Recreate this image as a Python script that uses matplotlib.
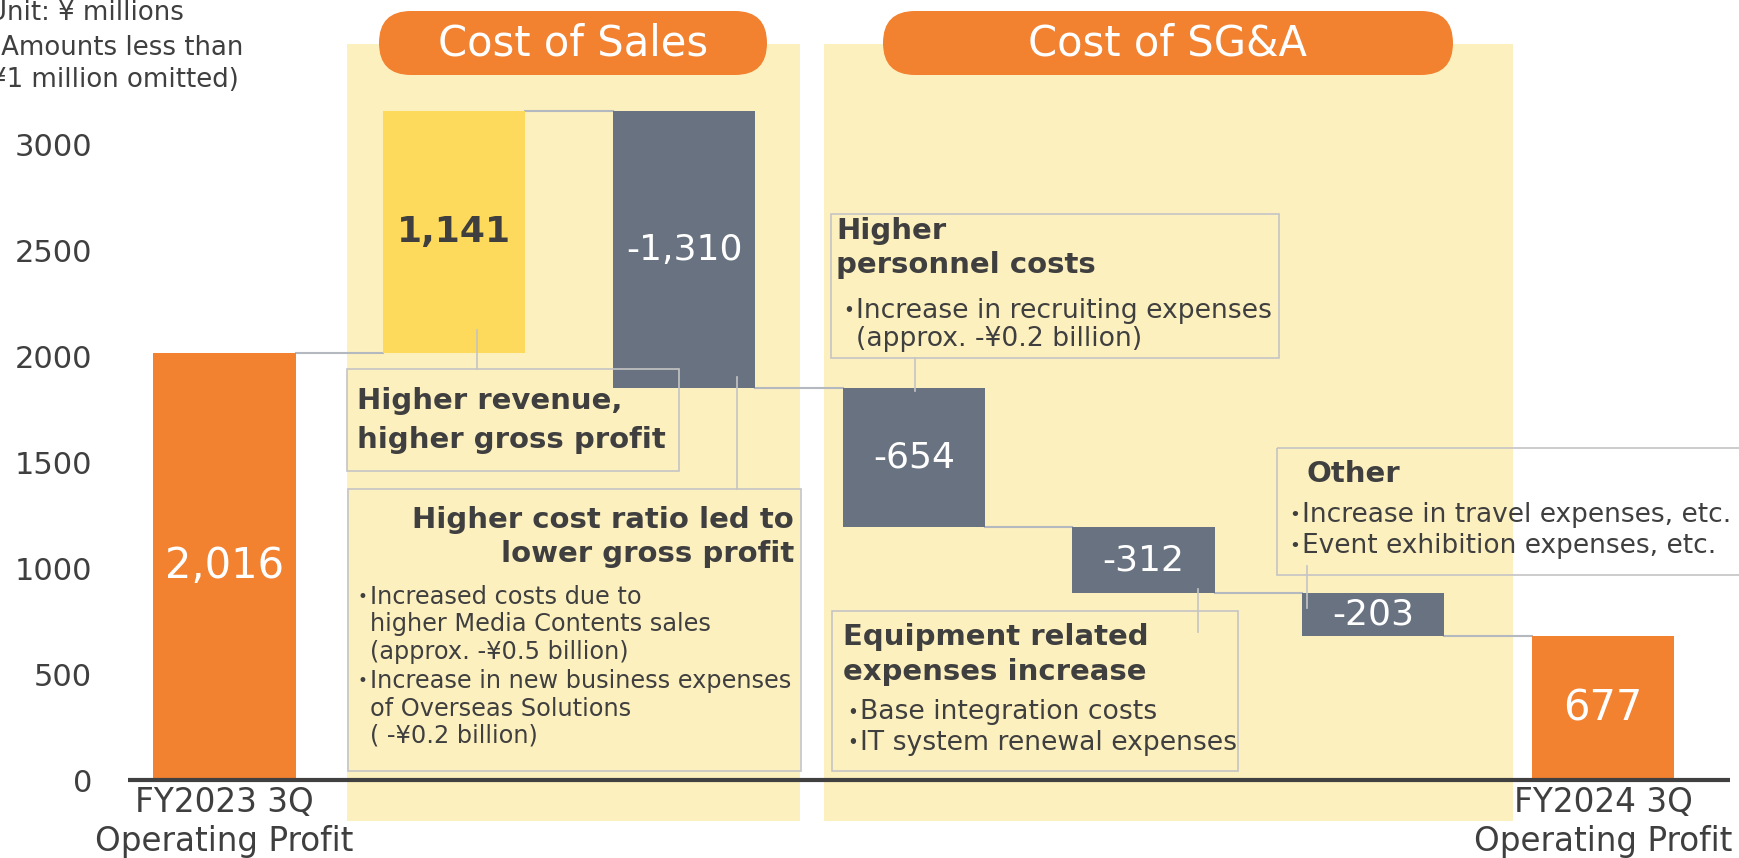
import numpy as np
import matplotlib
matplotlib.use("Agg")
from matplotlib import pyplot as plt
from matplotlib.patches import Rectangle, FancyBboxPatch

plt.rcParams['font.family'] = ['DejaVu Sans', 'Noto Sans CJK JP']

# data (¥ millions)
start_value = 2016
end_value = 677
changes = [1141, -1310, -654, -312, -203]
value_labels = ["2,016", "1,141", "-1,310", "-654", "-312", "-203", "677"]
end_labels = [("FY2023 3Q", "Operating Profit"), ("FY2024 3Q", "Operating Profit")]
yticks = [0, 500, 1000, 1500, 2000, 2500, 3000]
group_titles = ["Cost of Sales", "Cost of SG&A"]

W, H = 1739, 858
ORANGE = "#F28130"
YELLOW = "#FDDA5C"
GREY = "#687280"
SHADE = "#FDF0BF"
TXT = "#3F3F3F"
LINE = "#B4B8BF"
BOX = "#C4C4C4"

fig = plt.figure(figsize=(W / 100, H / 100), dpi=100)

# background layer in pixel coords (shading + pills)
bg = fig.add_axes([0, 0, 1, 1], zorder=0)
bg.set_xlim(0, W)
bg.set_ylim(H, 0)
bg.axis("off")

bg.add_patch(Rectangle((347, 44), 453, 777, color=SHADE, lw=0))
bg.add_patch(Rectangle((824, 44), 689, 777, color=SHADE, lw=0))
for (x0, x1), t in zip([(379, 767), (883, 1453)], group_titles):
    bg.add_patch(FancyBboxPatch((x0, 11), x1 - x0, 64, boxstyle="round,pad=0,rounding_size=32",
                                fc=ORANGE, ec="none"))
    bg.text((x0 + x1) / 2, 44, t, color="white", fontsize=30, ha="center", va="center")

# main chart
ax_left, ax_right = 128, 1730
ax = fig.add_axes([ax_left / W, 0, (ax_right - ax_left) / W, 1], zorder=1)
ax.patch.set_visible(False)
px_per_unit = 636 / 3000
y0_px = 780
ax.set_ylim(-(H - y0_px) / px_per_unit, y0_px / px_per_unit)
pitch = 229.75
c0 = 224.5
ax.set_xlim((ax_left - c0) / pitch, (ax_right - c0) / pitch)
for s in ax.spines.values():
    s.set_visible(False)
ax.set_xticks([])
ax.set_yticks(yticks)
ax.set_yticklabels([str(v) for v in yticks], fontsize=22, color=TXT)
ax.tick_params(axis="y", length=0, pad=26)

n = len(changes) + 2
x = np.arange(n)
bottoms = [0]
heights = [start_value]
colors = [ORANGE]
run = start_value
for c in changes:
    if c > 0:
        bottoms.append(run)
        heights.append(c)
        colors.append(YELLOW)
    else:
        bottoms.append(run + c)
        heights.append(-c)
        colors.append(GREY)
    run += c
bottoms.append(0)
heights.append(end_value)
colors.append(ORANGE)

bw = 0.62
ax.bar(x, heights, bottom=bottoms, width=bw, color=colors, zorder=3)

# connectors
levels = [start_value]
run = start_value
for c in changes:
    run += c
    levels.append(run)
for i, lv in enumerate(levels):
    ax.plot([i + bw / 2, i + 1 - bw / 2], [lv, lv], color=LINE, lw=1.5, zorder=2)

ax.axhline(0, color="#404040", lw=3, zorder=4)

for i in range(n):
    mid = bottoms[i] + heights[i] / 2
    col = TXT if colors[i] == YELLOW else "white"
    fw = "bold" if colors[i] == YELLOW else "normal"
    fs = 30 if colors[i] == ORANGE else 26
    ax.text(i, mid, value_labels[i], ha="center", va="center", color=col,
            fontsize=fs, fontweight=fw, zorder=5)

for i, (l1, l2) in zip([0, n - 1], end_labels):
    ax.text(i, -(803 - y0_px) / px_per_unit, l1, ha="center", va="center", color=TXT,
            fontsize=23.5, clip_on=False)
    ax.text(i, -(841 - y0_px) / px_per_unit, l2, ha="center", va="center", color=TXT,
            fontsize=23.5, clip_on=False)

# foreground layer in pixel coords (notes)
fg = fig.add_axes([0, 0, 1, 1], zorder=2)
fg.set_xlim(0, W)
fg.set_ylim(H, 0)
fg.axis("off")

for xu, yu, t in [(-12, 13, "Unit: ¥ millions"), (-9, 48, "(Amounts less than"),
                  (-10, 80, "¥1 million omitted)")]:
    fg.text(xu, yu, t, fontsize=18.7, color=TXT, va="center", ha="left")


def box(x0, y0, x1, y1):
    fg.add_patch(Rectangle((x0, y0), x1 - x0, y1 - y0, fc="none", ec=BOX, lw=1.2))


def leader(xp, ya, yb):
    fg.plot([xp, xp], [ya, yb], color=BOX, lw=1.2)


def head(xh, yh, t, ha="left"):
    fg.text(xh, yh, t, fontsize=21, fontweight="bold", color=TXT, va="center", ha=ha)


def bullets(xb, ys, lines, fs=17.5):
    for y, (mark, t) in zip(ys, lines):
        if mark:
            fg.text(xb, y, "•", fontsize=fs * 0.7, color=TXT, va="center", ha="left")
        fg.text(xb + 13, y, t, fontsize=fs, color=TXT, va="center", ha="left")


box(347, 369, 679, 471)
leader(477, 330, 369)
head(357, 401, "Higher revenue,")
head(357, 440, "higher gross profit")

box(348, 489, 801, 771)
leader(737, 377, 489)
head(794, 520, "Higher cost ratio led to", ha="right")
head(794, 554, "lower gross profit", ha="right")
bullets(357, [597, 624, 652, 681, 709, 736],
        [(True, "Increased costs due to"), (False, "higher Media Contents sales"),
         (False, "(approx. -¥0.5 billion)"), (True, "Increase in new business expenses"),
         (False, "of Overseas Solutions"), (False, "( -¥0.2 billion)")], fs=17.3)

box(831, 214, 1279, 358)
leader(915, 358, 391)
head(836, 231, "Higher")
head(836, 265, "personnel costs")
bullets(843, [311, 339], [(True, "Increase in recruiting expenses"), (False, "(approx. -¥0.2 billion)")],
        fs=19.2)

box(832, 611, 1238, 771)
leader(1198, 589, 632)
head(843, 637, "Equipment related")
head(843, 672, "expenses increase")
bullets(847, [712, 743], [(True, "Base integration costs"), (True, "IT system renewal expenses")],
        fs=19.2)

box(1277, 448, 1760, 575)
leader(1307, 566, 608)
head(1306, 474, "Other")
bullets(1289, [515, 546], [(True, "Increase in travel expenses, etc."), (True, "Event exhibition expenses, etc.")],
        fs=19)

fig.savefig("out.png", dpi=100)
